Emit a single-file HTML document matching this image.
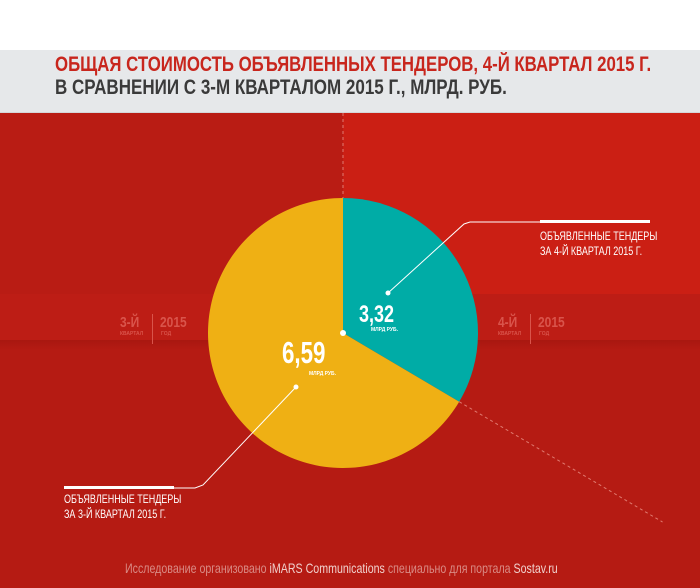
<!DOCTYPE html>
<html><head><meta charset="utf-8"><style>
body{margin:0;width:700px;height:588px;overflow:hidden;font-family:"Liberation Sans Narrow","Liberation Sans",sans-serif;}
.t{position:absolute;white-space:nowrap;font-weight:bold;transform-origin:left top;}
</style></head><body>
<div style="position:relative;width:700px;height:588px;background:#b51b13;overflow:hidden">
<div style="position:absolute;left:0;top:0;width:700px;height:50px;background:#ffffff"></div>
<div style="position:absolute;left:0;top:50px;width:700px;height:62px;background:#e6e8ea;border-bottom:1px solid #d5d6d8"></div>
<div style="position:absolute;left:0;top:113px;width:343px;height:181px;background:#b91c14"></div>
<div style="position:absolute;left:343px;top:113px;width:357px;height:181px;background:#cb1f14"></div>
<div style="position:absolute;left:0;top:294px;width:700px;height:46px;background:#bd1d15"></div>
<div style="position:absolute;left:0;top:340px;width:700px;height:10px;background:linear-gradient(#a81710,#b51b13)"></div>
<div class="t" style="left:55px;top:53px;font-size:21px;color:#c8261d;transform:scaleX(0.8)">ОБЩАЯ СТОИМОСТЬ ОБЪЯВЛЕННЫХ ТЕНДЕРОВ, 4-Й КВАРТАЛ 2015 Г.</div>
<div class="t" style="left:55px;top:76px;font-size:21px;color:#3a3a3a;transform:scaleX(0.81)">В СРАВНЕНИИ С 3-М КВАРТАЛОМ 2015 Г., МЛРД. РУБ.</div>
<svg id="chart" width="700" height="588" style="position:absolute;left:0;top:0">
<line x1="343" y1="113" x2="343" y2="198" stroke="#e07a70" stroke-dasharray="3,3" stroke-width="1"/>
</svg>
<div class="t" style="left:120px;top:314px;font-size:15px;color:#d9544b;transform:scaleX(0.8)">3-Й</div>
<div class="t" style="left:120px;top:331px;font-size:5px;color:#d9544b">КВАРТАЛ</div>
<div style="position:absolute;left:152px;top:314px;width:1px;height:30px;background:#d9544b"></div>
<div class="t" style="left:160px;top:314px;font-size:15px;color:#d9544b;transform:scaleX(0.8)">2015</div>
<div class="t" style="left:161px;top:331px;font-size:5px;color:#d9544b">ГОД</div>
<div class="t" style="left:498px;top:314px;font-size:15px;color:#d9544b;transform:scaleX(0.8)">4-Й</div>
<div class="t" style="left:498px;top:331px;font-size:5px;color:#d9544b">КВАРТАЛ</div>
<div style="position:absolute;left:530px;top:314px;width:1px;height:30px;background:#d9544b"></div>
<div class="t" style="left:538px;top:314px;font-size:15px;color:#d9544b;transform:scaleX(0.8)">2015</div>
<div class="t" style="left:539px;top:331px;font-size:5px;color:#d9544b">ГОД</div>
<div class="t" style="left:359px;top:301px;font-size:24px;color:#fff;transform:scaleX(0.75)">3,32</div>
<div class="t" style="left:371px;top:327px;font-size:5px;color:#fff">МЛРД РУБ.</div>
<div class="t" style="left:282px;top:335px;font-size:31px;color:#fff;transform:scaleX(0.72)">6,59</div>
<div class="t" style="left:309px;top:371px;font-size:5px;color:#fff">МЛРД РУБ.</div>
<div class="t" style="left:540px;top:229px;font-size:12px;font-weight:normal;color:#fff;line-height:15px;transform:scaleX(0.75)">ОБЪЯВЛЕННЫЕ ТЕНДЕРЫ<br>ЗА 4-Й КВАРТАЛ 2015 Г.</div>
<div class="t" style="left:64px;top:492px;font-size:12px;font-weight:normal;color:#fff;line-height:15px;transform:scaleX(0.75)">ОБЪЯВЛЕННЫЕ ТЕНДЕРЫ<br>ЗА 3-Й КВАРТАЛ 2015 Г.</div>
<div class="t" style="left:125px;top:560px;font-size:14px;font-weight:normal;color:#d98a84;transform:scaleX(0.76)">Исследование организовано <span style="color:#f0d0cc">iMARS Communications</span> специально для портала <span style="color:#f0d0cc">Sostav.ru</span></div>
</div>
<script>
const categories=["4-й квартал 2015","3-й квартал 2015"];
const values=[3.32,6.59];
const colors=["#00aca6","#efb014"];
const svg=document.getElementById('chart');
const NS="http://www.w3.org/2000/svg";
const cx=343,cy=333,r=135;
const total=values.reduce((a,b)=>a+b,0);
function pt(frac){const a=frac*2*Math.PI;return [cx+r*Math.sin(a),cy-r*Math.cos(a)];}
let acc=0;
values.forEach((v,i)=>{
  const f0=acc/total,f1=(acc+v)/total;acc+=v;
  const p0=pt(f0),p1=pt(f1);
  const large=(f1-f0)>0.5?1:0;
  const p=document.createElementNS(NS,'path');
  p.setAttribute('d',`M${cx},${cy} L${p0[0]},${p0[1]} A${r},${r} 0 ${large} 1 ${p1[0]},${p1[1]} Z`);
  p.setAttribute('fill',colors[i]);
  
  
  svg.appendChild(p);
});
const b=pt(values[0]/total);
const dl=document.createElementNS(NS,'line');
dl.setAttribute('x1',b[0]);dl.setAttribute('y1',b[1]);
dl.setAttribute('x2',b[0]+(b[0]-cx)*1.75);dl.setAttribute('y2',b[1]+(b[1]-cy)*1.75);
dl.setAttribute('stroke','#e07a70');dl.setAttribute('stroke-dasharray','3,3');


svg.appendChild(dl);
function add(tag,attrs,name){const e=document.createElementNS(NS,tag);for(const k in attrs)e.setAttribute(k,attrs[k]);


svg.appendChild(e);}
add('polyline',{points:'388,293 464,224 470,222 650,222',fill:'none',stroke:'#fff','stroke-width':1},'leader-q4');
add('rect',{x:540,y:220,width:110,height:3,fill:'#fff'},'leader-bar-q4');
add('circle',{cx:388,cy:293,r:2.5,fill:'#fff'},'leader-dot-q4');
add('polyline',{points:'296,387 203,485 195,488 64,488',fill:'none',stroke:'#fff','stroke-width':1},'leader-q3');
add('rect',{x:64,y:486,width:110,height:3,fill:'#fff'},'leader-bar-q3');
add('circle',{cx:296,cy:387,r:2.5,fill:'#fff'},'leader-dot-q3');
add('circle',{cx:cx,cy:cy,r:3,fill:'#fff'},'center-dot');
</script>
</body></html>
